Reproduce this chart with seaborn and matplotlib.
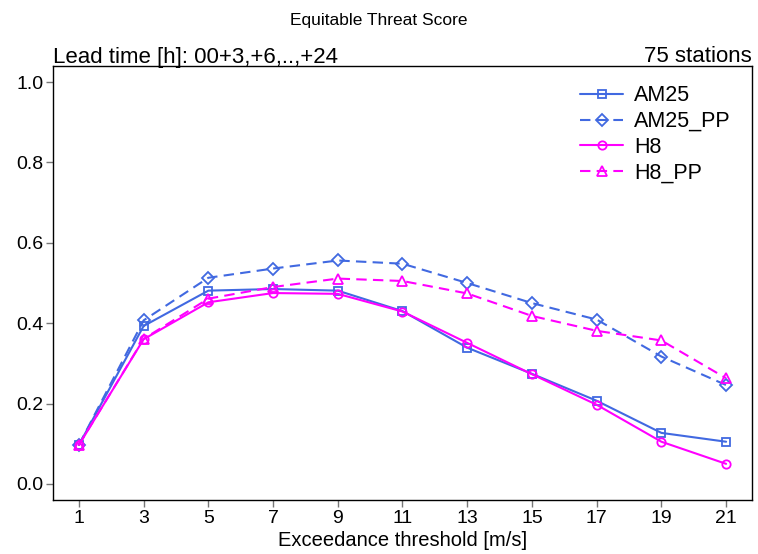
import matplotlib
matplotlib.use("Agg")
import matplotlib.pyplot as plt
import seaborn as sns
import pandas as pd

thresholds = [1, 3, 5, 7, 9, 11, 13, 15, 17, 19, 21]
am25 = [0.097, 0.393, 0.481, 0.485, 0.481, 0.430, 0.339, 0.274, 0.207, 0.127, 0.105]
am25_pp = [0.097, 0.407, 0.513, 0.536, 0.556, 0.548, 0.500, 0.450, 0.409, 0.317, 0.246]
h8 = [0.097, 0.360, 0.452, 0.475, 0.473, 0.429, 0.351, 0.273, 0.197, 0.105, 0.050]
h8_pp = [0.097, 0.361, 0.461, 0.490, 0.511, 0.505, 0.474, 0.418, 0.381, 0.357, 0.263]

series = {"AM25": am25, "AM25_PP": am25_pp, "H8": h8, "H8_PP": h8_pp}
styles = {
    "AM25": dict(color="#4169E1", linestyle="-", marker="s", ms=5.5),
    "AM25_PP": dict(color="#4169E1", linestyle=(0, (5, 3)), marker="D", ms=6),
    "H8": dict(color="#FF00FF", linestyle="-", marker="o", ms=6),
    "H8_PP": dict(color="#FF00FF", linestyle=(0, (5, 3)), marker="^", ms=6.5),
}

sns.set_style("white")
plt.rcParams["font.family"] = ["Liberation Sans", "DejaVu Sans"]
plt.rcParams["text.color"] = "black"
plt.rcParams["xtick.labelcolor"] = "black"
plt.rcParams["ytick.labelcolor"] = "black"
plt.rcParams["axes.labelcolor"] = "black"

W, H = 758, 554
fig = plt.figure(figsize=(W / 100, H / 100), dpi=100)
ax = fig.add_axes([53 / W, 1 - 500 / H, 699 / W, 434 / H])

for name, vals in series.items():
    df = pd.DataFrame({"x": thresholds, "y": vals})
    st = styles[name]
    sns.lineplot(data=df, x="x", y="y", ax=ax, label=name, color=st["color"],
                 linestyle=st["linestyle"], marker=st["marker"], markersize=st["ms"],
                 markerfacecolor="none", markeredgecolor=st["color"],
                 markeredgewidth=1.3, linewidth=1.5)

ax.set_xlim(0.2, 21.8)
ax.set_ylim(-0.04, 1.04)
ax.set_xticks(thresholds)
ax.set_xticklabels([str(t) for t in thresholds], fontsize=14)
ax.set_yticks([0.0, 0.2, 0.4, 0.6, 0.8, 1.0])
ax.set_yticklabels(["0.0", "0.2", "0.4", "0.6", "0.8", "1.0"], fontsize=14)
ax.tick_params(axis="both", direction="out", length=5, width=1, color="#777777",
               bottom=True, left=True, pad=2)
for sp in ax.spines.values():
    sp.set_color("black")
    sp.set_linewidth(1)

ax.set_xlabel("Exceedance threshold [m/s]", fontsize=14.5, labelpad=3)
ax.set_ylabel("")

fig.text(0.5, 1 - 21 / H, "Equitable Threat Score", ha="center", va="center", fontsize=12.5)
fig.text(53 / W, 1 - 57 / H, "Lead time [h]: 00+3,+6,..,+24", ha="left", va="center",
         fontsize=16)
fig.text(752 / W, 1 - 57 / H, "75 stations", ha="right", va="center", fontsize=16)

leg = ax.legend(loc="upper left", bbox_to_anchor=(561 / W, 1 - 66 / H),
                bbox_transform=fig.transFigure, frameon=False, fontsize=15.5,
                handlelength=2.0, labelspacing=0.22, handletextpad=0.5, borderpad=0.4)

fig.savefig("out.png", dpi=100)
